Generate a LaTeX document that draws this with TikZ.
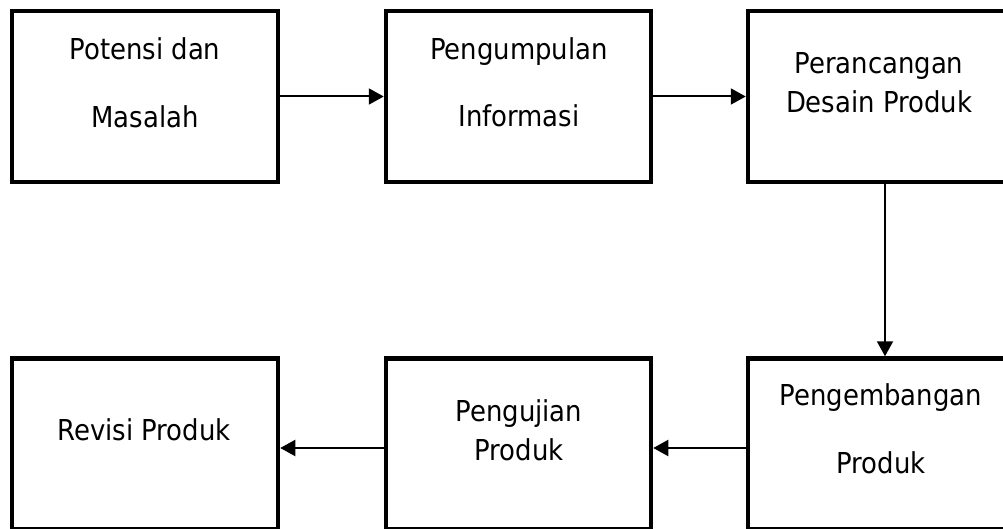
\documentclass[tikz,border=0pt]{standalone}
\usepackage{fontspec}
\setmainfont{DejaVu Sans Condensed}
\usetikzlibrary{arrows.meta}
\begin{document}
\begin{tikzpicture}[x=1pt,y=-1pt,
    kotak/.style={draw, line width=4.5pt, minimum width=266pt, minimum height=171pt, inner sep=0pt},
    teks/.style={align=center, anchor=base, inner sep=0pt, font=\fontsize{28.8}{38.7}\selectfont},
    panah/.style={line width=2pt, -{Triangle[length=15pt,width=16pt]}}]
        \useasboundingbox (0,0) rectangle (1003,529);
        % Kotak atas
        \node[kotak] (b1) at (145,96.5) {};
        \node[kotak, minimum width=265pt] (b2) at (518.5,96.5) {};
        \node[kotak] (b3) at (881,96.5) {};
        % Kotak bawah
        \node[kotak] (b4) at (145,444) {};
        \node[kotak, minimum width=265pt] (b5) at (518.5,444) {};
        \node[kotak] (b6) at (881,444) {};
        % Teks (anchor base = baris terakhir)
        \node[teks] (t1) at (145,127.3) {Potensi dan\\[29pt]Masalah};
        \node[teks] (t2) at (519,126.7) {Pengumpulan\\[28pt]Informasi};
        \node[teks] (t3) at (879,112.7) {Perancangan\\Desain Produk};
        \node[teks] (t4) at (144,440) {Revisi Produk};
        \node[teks] (t5) at (519,460) {Pengujian\\Produk};
        \node[teks] (t6) at (881,473.3) {Pengembangan\\[29pt]Produk};
        % Panah
        \draw[panah] (b1) -- (b2);
        \draw[panah] (b2) -- (b3);
        \draw[panah] ([xshift=4pt]b3.south) -- ([xshift=4pt]b6.north);
        \draw[panah] ([yshift=-4pt]b6.west) -- ([yshift=-4pt]b5.east);
        \draw[panah] ([yshift=-4pt]b5.west) -- ([yshift=-4pt]b4.east);
    \end{tikzpicture}
\end{document}
